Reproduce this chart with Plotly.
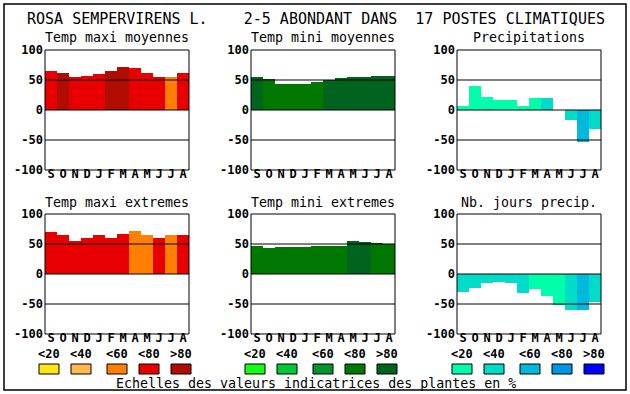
import plotly.graph_objects as go

W, H = 630, 394

months = ["S", "O", "N", "D", "J", "F", "M", "A", "M", "J", "J", "A"]
y_ticks = [-100, -50, 0, 50, 100]

# values (indicator scale -100..100) and abundance classes (0:<20 .. 4:>80)
maxi_moy = [65, 62, 55, 57, 60, 65, 72, 70, 62, 55, 55, 62]
maxi_moy_cls = [3, 4, 3, 3, 3, 4, 4, 3, 3, 3, 2, 3]
mini_moy = [55, 52, 44, 43, 44, 46, 50, 54, 55, 55, 57, 57]
mini_moy_cls = [4, 3, 3, 3, 3, 3, 4, 4, 4, 4, 4, 4]
precip = [7, 40, 22, 17, 17, 7, 20, 20, 0, -16, -54, -32]
precip_cls = [0, 0, 0, 0, 0, 0, 0, 1, 0, 1, 2, 1]
maxi_ext = [70, 65, 55, 60, 65, 60, 67, 72, 65, 60, 65, 65]
maxi_ext_cls = [3, 3, 3, 3, 3, 3, 3, 2, 2, 3, 2, 3]
mini_ext = [47, 44, 45, 45, 45, 47, 47, 47, 55, 54, 52, 50]
mini_ext_cls = [3, 3, 3, 3, 3, 3, 3, 3, 4, 4, 3, 3]
jours = [-30, -24, -15, -14, -15, -32, -25, -37, -52, -60, -60, -47]
jours_cls = [1, 1, 1, 1, 1, 1, 0, 0, 0, 1, 2, 1]

class_labels = ["&lt;20", "&lt;40", "&lt;60", "&lt;80", "&gt;80"]
pal_maxi = ["#FFE619", "#FFB84D", "#FF8000", "#E80000", "#B00C00"]
pal_mini = ["#14FF14", "#00C837", "#00962D", "#007800", "#00641E"]
pal_prec = ["#00FFAA", "#00DCC8", "#00B9DC", "#0096E6", "#0000FF"]

title = "ROSA SEMPERVIRENS L.    2-5 ABONDANT DANS  17 POSTES CLIMATIQUES"
footer = "Echelles des valeurs indicatrices des plantes en %"

panels = [
    ("Temp maxi moyennes", maxi_moy, maxi_moy_cls, pal_maxi),
    ("Temp mini moyennes", mini_moy, mini_moy_cls, pal_mini),
    ("Precipitations", precip, precip_cls, pal_prec),
    ("Temp maxi extremes", maxi_ext, maxi_ext_cls, pal_maxi),
    ("Temp mini extremes", mini_ext, mini_ext_cls, pal_mini),
    ("Nb. jours precip.", jours, jours_cls, pal_prec),
]

MONO = "DejaVu Sans Mono"

def px(x):
    return x / W

def py(y):
    return 1 - y / H

col_px = [(45, 189), (251, 395), (457, 601)]
row_px = [(50, 170), (214, 334)]
MONTH_LIFT = 5  # month labels sit close under the plot frame

fig = go.Figure()
shapes = []
annotations = []

for i, (name, vals, cls, pal) in enumerate(panels):
    r, c = divmod(i, 3)
    n = i + 1
    xa = "x" if n == 1 else f"x{n}"
    ya = "y" if n == 1 else f"y{n}"
    fig.add_trace(go.Bar(
        x=list(range(len(months))), y=vals,
        marker=dict(color=[pal[k] for k in cls], line=dict(width=0)),
        xaxis=xa, yaxis=ya, showlegend=False, hoverinfo="skip",
    ))
    x0, x1 = col_px[c]
    y0, y1 = row_px[r]
    fig.layout[f"xaxis{'' if n == 1 else n}"] = dict(
        domain=[px(x0), px(x1)], range=[-0.5, 11.5],
        anchor="free", position=py(y1 - MONTH_LIFT),
        tickvals=list(range(12)), ticktext=months,
        tickfont=dict(family=MONO, size=12, color="black", weight="bold"),
        showgrid=False, zeroline=False, showline=False, ticks="",
        fixedrange=True, automargin=False,
    )
    fig.layout[f"yaxis{'' if n == 1 else n}"] = dict(
        domain=[py(y1), py(y0)], range=[-100, 100], anchor=xa,
        tickvals=y_ticks, ticktext=[str(v) for v in y_ticks],
        tickfont=dict(family=MONO, size=12, color="black", weight="bold"),
        showgrid=False, zeroline=False, showline=False, ticks="",
        ticklabelstandoff=1, fixedrange=True, automargin=False,
    )
    for gv in (50, 0, -50):
        shapes.append(dict(type="line", xref=f"{xa} domain", yref=ya,
                           x0=0, x1=1, y0=gv, y1=gv,
                           line=dict(color="black", width=1), layer="above"))
    shapes.append(dict(type="rect", xref=f"{xa} domain", yref=f"{ya} domain",
                       x0=0, x1=1, y0=0, y1=1,
                       line=dict(color="black", width=1), layer="above"))
    annotations.append(dict(
        text=name, xref="paper", yref="paper",
        x=px((x0 + x1) / 2), y=py(y0 - 12), xanchor="center", yanchor="middle",
        showarrow=False, font=dict(family=MONO, size=13.3, color="black"),
    ))

# legend scales
legend_groups = [(39, pal_maxi), (245, pal_mini), (452, pal_prec)]
offsets = [0, 32, 68, 100, 132]
for gx, pal in legend_groups:
    for k in range(5):
        bx = gx + offsets[k]
        shapes.append(dict(type="rect", xref="paper", yref="paper",
                           x0=px(bx), x1=px(bx + 20), y0=py(374), y1=py(364),
                           fillcolor=pal[k], line=dict(color="black", width=1)))
        annotations.append(dict(
            text=class_labels[k], xref="paper", yref="paper",
            x=px(bx + 10), y=py(354), xanchor="center", yanchor="middle",
            showarrow=False,
            font=dict(family=MONO, size=12, color="black", weight="bold"),
        ))

annotations.append(dict(
    text=title, xref="paper", yref="paper", x=px(316), y=py(19),
    xanchor="center", yanchor="middle", showarrow=False,
    font=dict(family=MONO, size=15, color="black"),
))
annotations.append(dict(
    text=footer, xref="paper", yref="paper", x=px(316), y=py(383),
    xanchor="center", yanchor="middle", showarrow=False,
    font=dict(family=MONO, size=13.3, color="black"),
))

# outer frame
shapes.append(dict(type="rect", xref="paper", yref="paper",
                   x0=px(4), x1=px(626), y0=py(390), y1=py(4),
                   line=dict(color="black", width=1.5), layer="below"))

fig.update_layout(
    width=W, height=H, margin=dict(l=0, r=0, t=0, b=0, pad=0, autoexpand=False),
    paper_bgcolor="white", plot_bgcolor="white",
    bargap=0, shapes=shapes, annotations=annotations,
)

fig.write_html("out.html", config={"displayModeBar": False},
               post_script="document.body.style.margin='0';document.body.style.overflow='hidden';")
